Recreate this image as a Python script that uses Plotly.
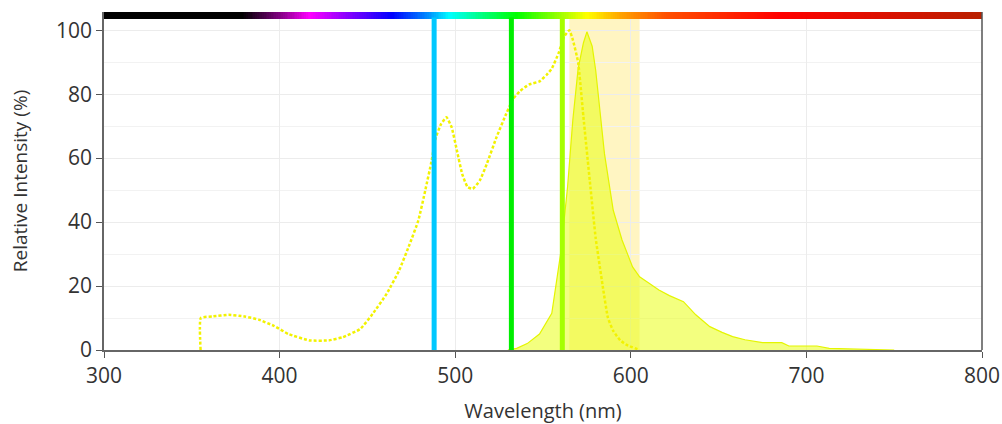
import numpy as np
import plotly.graph_objects as go

# Excitation spectrum (dotted)
ex_wl = [355, 355.1, 362, 371, 380, 388, 397, 405, 417, 428, 436, 446, 453, 461, 468, 474, 479, 483, 486.5, 489, 492, 495, 498, 501, 504, 507, 510, 514, 518, 523.5, 529, 533, 537, 542, 548, 552, 555, 559, 562, 565, 567, 570, 573, 577, 580, 584, 587, 590, 594, 598, 605]
ex_val = [0, 10, 10.5, 11, 10.5, 9.5, 7.5, 5, 3, 3, 4, 6.6, 11.3, 17.6, 24.8, 33, 40.5, 50, 59, 66.5, 70.7, 72.8, 69.6, 62.3, 55, 51, 50.4, 53, 58.2, 66.5, 73.8, 78.5, 81, 83, 84, 86, 88, 93, 98, 100, 97, 90, 73, 51, 35, 20, 10, 6, 3, 1.5, 0]

# Emission spectrum (filled)
em_wl = [530, 535, 541, 548, 555, 560, 564, 567, 570, 573, 575, 578, 580, 583, 585, 590, 595, 601, 605, 610, 616, 622, 630, 637, 645, 652, 658, 665, 675, 686, 690, 700, 706, 713, 725, 742, 750]
em_val = [0, 0.5, 2, 5, 11.5, 30, 51, 72, 88, 96, 99.5, 95, 87.5, 72, 61.4, 43.7, 34.4, 26, 22.9, 21, 18.75, 17, 15.1, 11, 7.3, 5.5, 4.2, 3.2, 2.3, 2.3, 1.25, 1.25, 1.25, 0.5, 0.3, 0.1, 0]

# Laser lines
laser_wl = [488, 532, 561]
laser_colors = ["#00c8ff", "#00ee00", "#a6ff00"]

# Detection band
band = [565, 605]

# Spectrum colour bar stops (wavelength, colour)
spec_stops = [(300, "#000000"), (379, "#000000"), (400, "#800080"), (417, "#ff00ff"),
              (440, "#8000ff"), (464, "#0000ff"), (485, "#0090ff"), (497, "#00ffff"),
              (515, "#00ff80"), (535, "#00ff00"), (555, "#80ff00"), (575, "#ffff00"),
              (595, "#ffa000"), (620, "#ff5000"), (685, "#ff0000"), (800, "#b82000")]

fig = go.Figure()

# band
fig.add_vrect(x0=band[0], x1=band[1], fillcolor="rgba(255,226,80,0.35)", line_width=0, layer="below")

# emission
fig.add_trace(go.Scatter(x=em_wl, y=em_val, mode="lines", fill="tozeroy",
                         fillcolor="rgba(232,255,0,0.5)",
                         line=dict(color="rgba(228,245,0,1)", width=1.2),
                         showlegend=False, hoverinfo="skip"))

# excitation
fig.add_trace(go.Scatter(x=ex_wl, y=ex_val, mode="lines", line_shape="spline",
                         line=dict(color="#f2f200", width=2.5, dash="3px,2px", smoothing=0.4),
                         showlegend=False, hoverinfo="skip"))

# lasers
for wl, c in zip(laser_wl, laser_colors):
    fig.add_trace(go.Scatter(x=[wl, wl], y=[0, 104], mode="lines",
                             line=dict(color=c, width=5), showlegend=False, hoverinfo="skip"))

# spectrum color bar
edges = np.arange(300, 801, 1)
centers = (edges[:-1] + edges[1:]) / 2
cs = [[(w - 300) / 500, c] for w, c in spec_stops]
fig.add_trace(go.Heatmap(x=edges, y=[103.4, 105.7], z=[centers], colorscale=cs,
                         zmin=300, zmax=800, showscale=False, hoverinfo="skip"))

font_fam = "Open Sans, sans-serif"
fig.update_layout(
    width=1002, height=424,
    margin=dict(l=104, r=20, t=12, b=74),
    plot_bgcolor="white", paper_bgcolor="white",
    font=dict(family=font_fam, color="#333333"),
    xaxis=dict(range=[300, 800], dtick=100, showgrid=True, gridcolor="#ececec",
               ticks="outside", ticklen=6, tickcolor="#555555", tickwidth=1,
               showline=True, linecolor="#666666", linewidth=1.5, mirror=False,
               tickfont=dict(size=21), zeroline=False, automargin=False,
               title=dict(text="Wavelength (nm)", font=dict(size=20), standoff=20)),
    yaxis=dict(range=[0, 105.7], dtick=20, showgrid=True, gridcolor="#ececec",
               minor=dict(dtick=10, showgrid=True, gridcolor="#f2f2f2"),
               ticks="outside", ticklen=6, tickcolor="#555555",
               showline=True, linecolor="#666666", linewidth=1.5, zeroline=False,
               tickfont=dict(size=21), automargin=False,
               title=dict(text="Relative Intensity (%)", font=dict(size=19), standoff=23)),
)
fig.add_shape(type="line", xref="paper", yref="paper", x0=1, x1=1, y0=0, y1=1,
              line=dict(color="#555555", width=1.5))

fig.write_html("out.html", config={"displayModeBar": False},
               post_script="document.body.style.margin='0';document.body.style.padding='0';document.documentElement.style.overflow='hidden';")
